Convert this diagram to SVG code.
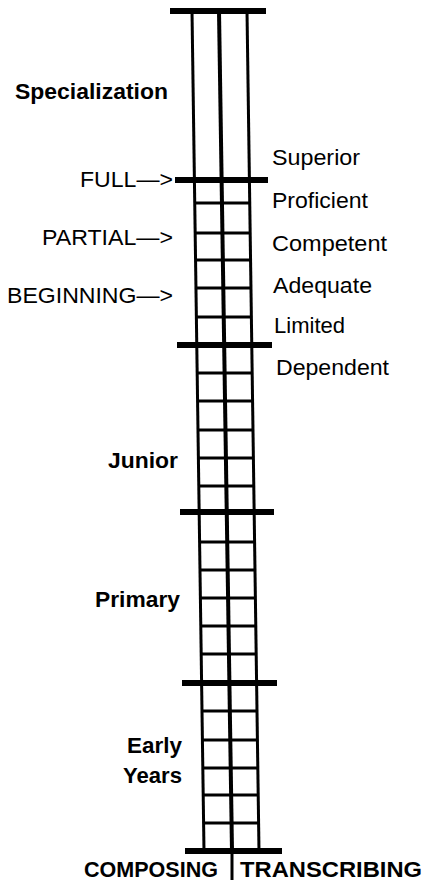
<svg xmlns="http://www.w3.org/2000/svg" width="426" height="883" viewBox="0 0 426 883">
<style>
.bar{stroke:#000;stroke-width:6;stroke-linecap:butt}
.side{stroke:#000;stroke-width:3;fill:none}
.mid{stroke:#000;stroke-width:4;fill:none}
.rung{stroke:#000;stroke-width:3}
text{font-family:"Liberation Sans",Arial,sans-serif;font-size:22px;fill:#000}
.b{font-weight:bold}
</style>
<rect width="426" height="883" fill="#fff"/>
<g id="connectors">
<line class="side" x1="192" y1="11" x2="204" y2="851"/>
<line class="mid" x1="219" y1="11" x2="232" y2="851"/>
<line class="side" x1="247" y1="11" x2="259" y2="851"/>
<line class="side" x1="232" y1="851" x2="232" y2="880"/>
</g>
<g id="bars">
<line class="bar" x1="170" y1="11" x2="266" y2="11"/>
<line class="bar" x1="175" y1="180" x2="268" y2="180"/>
<line class="bar" x1="177" y1="345" x2="272" y2="345"/>
<line class="bar" x1="180" y1="512" x2="274" y2="512"/>
<line class="bar" x1="182" y1="683" x2="277" y2="683"/>
<line class="bar" x1="185" y1="851" x2="282" y2="851"/>
</g>
<g id="rungs">
<line class="rung" x1="194.7" y1="203" x2="249.7" y2="203"/>
<line class="rung" x1="195.2" y1="233" x2="250.2" y2="233"/>
<line class="rung" x1="195.6" y1="260" x2="250.6" y2="260"/>
<line class="rung" x1="196" y1="288" x2="251" y2="288"/>
<line class="rung" x1="196.4" y1="317" x2="251.4" y2="317"/>
<line class="rung" x1="197.2" y1="373" x2="252.2" y2="373"/>
<line class="rung" x1="197.6" y1="401" x2="252.6" y2="401"/>
<line class="rung" x1="198" y1="430" x2="253" y2="430"/>
<line class="rung" x1="198.4" y1="458" x2="253.4" y2="458"/>
<line class="rung" x1="198.8" y1="486" x2="253.8" y2="486"/>
<line class="rung" x1="199.6" y1="542" x2="254.6" y2="542"/>
<line class="rung" x1="200" y1="570" x2="255" y2="570"/>
<line class="rung" x1="200.4" y1="598" x2="255.4" y2="598"/>
<line class="rung" x1="200.8" y1="626" x2="255.8" y2="626"/>
<line class="rung" x1="201.2" y1="654" x2="256.2" y2="654"/>
<line class="rung" x1="202" y1="711" x2="257" y2="711"/>
<line class="rung" x1="202.4" y1="740" x2="257.4" y2="740"/>
<line class="rung" x1="202.8" y1="768" x2="257.8" y2="768"/>
<line class="rung" x1="203.2" y1="795" x2="258.2" y2="795"/>
<line class="rung" x1="203.6" y1="823" x2="258.6" y2="823"/>
</g>
<g id="stage-specialization"><text class="b" x="15" y="99" textLength="153" lengthAdjust="spacingAndGlyphs">Specialization</text></g>
<g id="stage-junior"><text class="b" x="108" y="468" textLength="70" lengthAdjust="spacingAndGlyphs">Junior</text></g>
<g id="stage-primary"><text class="b" x="95" y="607" textLength="85" lengthAdjust="spacingAndGlyphs">Primary</text></g>
<g id="stage-early"><text class="b" x="127" y="753" textLength="55" lengthAdjust="spacingAndGlyphs">Early</text><text class="b" x="123" y="783" textLength="59" lengthAdjust="spacingAndGlyphs">Years</text></g>
<g id="spec-full"><text x="80" y="187" textLength="93" lengthAdjust="spacingAndGlyphs">FULL—&gt;</text></g>
<g id="spec-partial"><text x="42" y="245" textLength="131" lengthAdjust="spacingAndGlyphs">PARTIAL—&gt;</text></g>
<g id="spec-beginning"><text x="7" y="303" textLength="166" lengthAdjust="spacingAndGlyphs">BEGINNING—&gt;</text></g>
<g id="level-superior"><text x="272" y="165" textLength="88" lengthAdjust="spacingAndGlyphs">Superior</text></g>
<g id="level-proficient"><text x="272" y="208" textLength="96" lengthAdjust="spacingAndGlyphs">Proficient</text></g>
<g id="level-competent"><text x="272" y="251" textLength="115" lengthAdjust="spacingAndGlyphs">Competent</text></g>
<g id="level-adequate"><text x="273" y="293" textLength="99" lengthAdjust="spacingAndGlyphs">Adequate</text></g>
<g id="level-limited"><text x="274" y="333" textLength="71" lengthAdjust="spacingAndGlyphs">Limited</text></g>
<g id="level-dependent"><text x="276" y="375" textLength="113" lengthAdjust="spacingAndGlyphs">Dependent</text></g>
<g id="axis-composing"><text class="b" x="84" y="877" textLength="134" lengthAdjust="spacingAndGlyphs">COMPOSING</text></g>
<g id="axis-transcribing"><text class="b" x="240" y="877" textLength="182" lengthAdjust="spacingAndGlyphs">TRANSCRIBING</text></g>
</svg>
